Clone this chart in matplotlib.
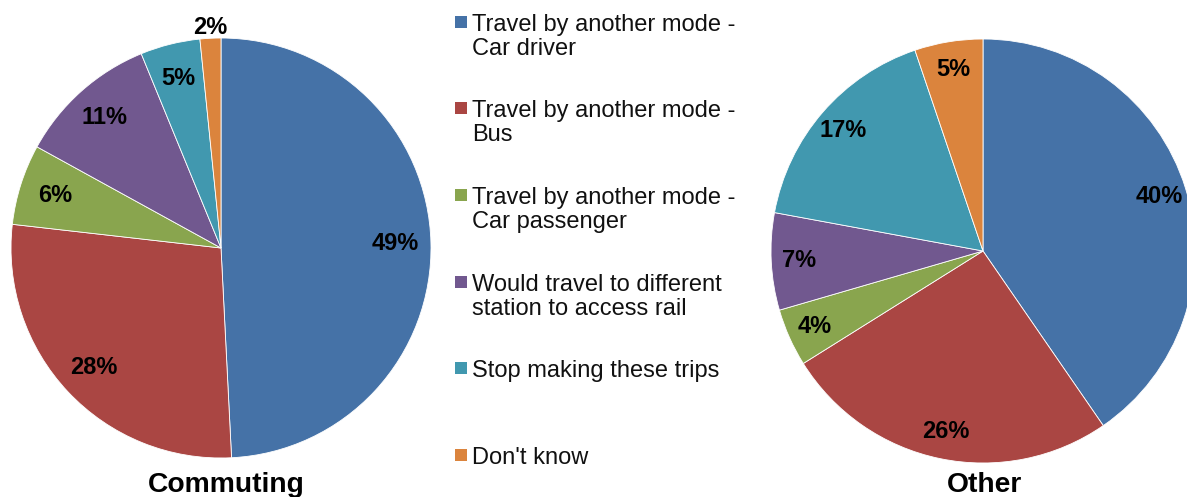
"""
Two pie charts: alternative if rail not available, commuting vs other trips.
"""

import os

import matplotlib
matplotlib.use("Agg")
import matplotlib.pyplot as plt
from matplotlib import font_manager as fm
from matplotlib.patches import Rectangle
import numpy as np

categories = [
    "Travel by another mode -\nCar driver",
    "Travel by another mode -\nBus",
    "Travel by another mode -\nCar passenger",
    "Would travel to different\nstation to access rail",
    "Stop making these trips",
    "Don't know",
]
commuting = [49.2, 27.6, 6.2, 10.8, 4.6, 1.6]
other = [40.4, 25.7, 4.4, 7.4, 16.9, 5.2]
colors = ["#4572A7", "#AA4643", "#89A54E", "#71588F", "#4198AF", "#DB843D"]


def font_file(name):
    for path in fm.findSystemFonts():
        if os.path.basename(path) == name:
            return path
    return None


reg_path = font_file("LiberationSans-Regular.ttf")
bold_path = font_file("LiberationSans-Bold.ttf")


def fp(size, bold=False):
    path = bold_path if bold else reg_path
    if path:
        return fm.FontProperties(fname=path, size=size)
    return fm.FontProperties(family="Liberation Sans", size=size,
                             weight="bold" if bold else "normal")


W, H = 1187, 497
fig = plt.figure(figsize=(W / 100, H / 100), dpi=100)


def pie_axes(cx, cy, r):
    # cx, cy, r in pixels, y measured from the top
    return fig.add_axes([(cx - r) / W, (H - cy - r) / H, 2 * r / W, 2 * r / H])


def draw_pie(ax, values, pctdist, outside_small=False):
    wedges, _ = ax.pie(
        values,
        colors=colors,
        startangle=90,
        counterclock=False,
        wedgeprops=dict(edgecolor="white", linewidth=0.6),
    )
    for w, v in zip(wedges, values):
        mid = np.deg2rad((w.theta1 + w.theta2) / 2)
        d = pctdist
        if outside_small and v < 3:
            d = 1.05
        ax.text(
            d * np.cos(mid), d * np.sin(mid), f"{v:.0f}%",
            ha="center", va="center", fontproperties=fp(17, bold=True)
        )
    ax.set_xlim(-1, 1)
    ax.set_ylim(-1, 1)
    ax.axis("off")


ax1 = pie_axes(221, 248, 210)
draw_pie(ax1, commuting, 0.83, outside_small=True)

ax2 = pie_axes(983, 251, 212)
draw_pie(ax2, other, 0.87)

fig.text(226 / W, 1 - 485 / H, "Commuting", ha="center", va="center",
         fontproperties=fp(20.3, bold=True))
fig.text(984 / W, 1 - 485 / H, "Other", ha="center", va="center",
         fontproperties=fp(20.3, bold=True))

# legend drawn by hand so the marker sits next to the first text line
first_lines = [22, 108, 195, 282, 368, 455]
for y, label, c in zip(first_lines, categories, colors):
    fig.patches.append(Rectangle(
        (455 / W, 1 - (y + 6) / H), 12 / W, 12 / H,
        facecolor=c, edgecolor="none", transform=fig.transFigure
    ))
    fig.text(472 / W, 1 - (y - 8) / H, label, ha="left", va="top",
             fontproperties=fp(17), color="#111111", linespacing=1.14)

fig.savefig("out.png", dpi=100)
plt.close(fig)
